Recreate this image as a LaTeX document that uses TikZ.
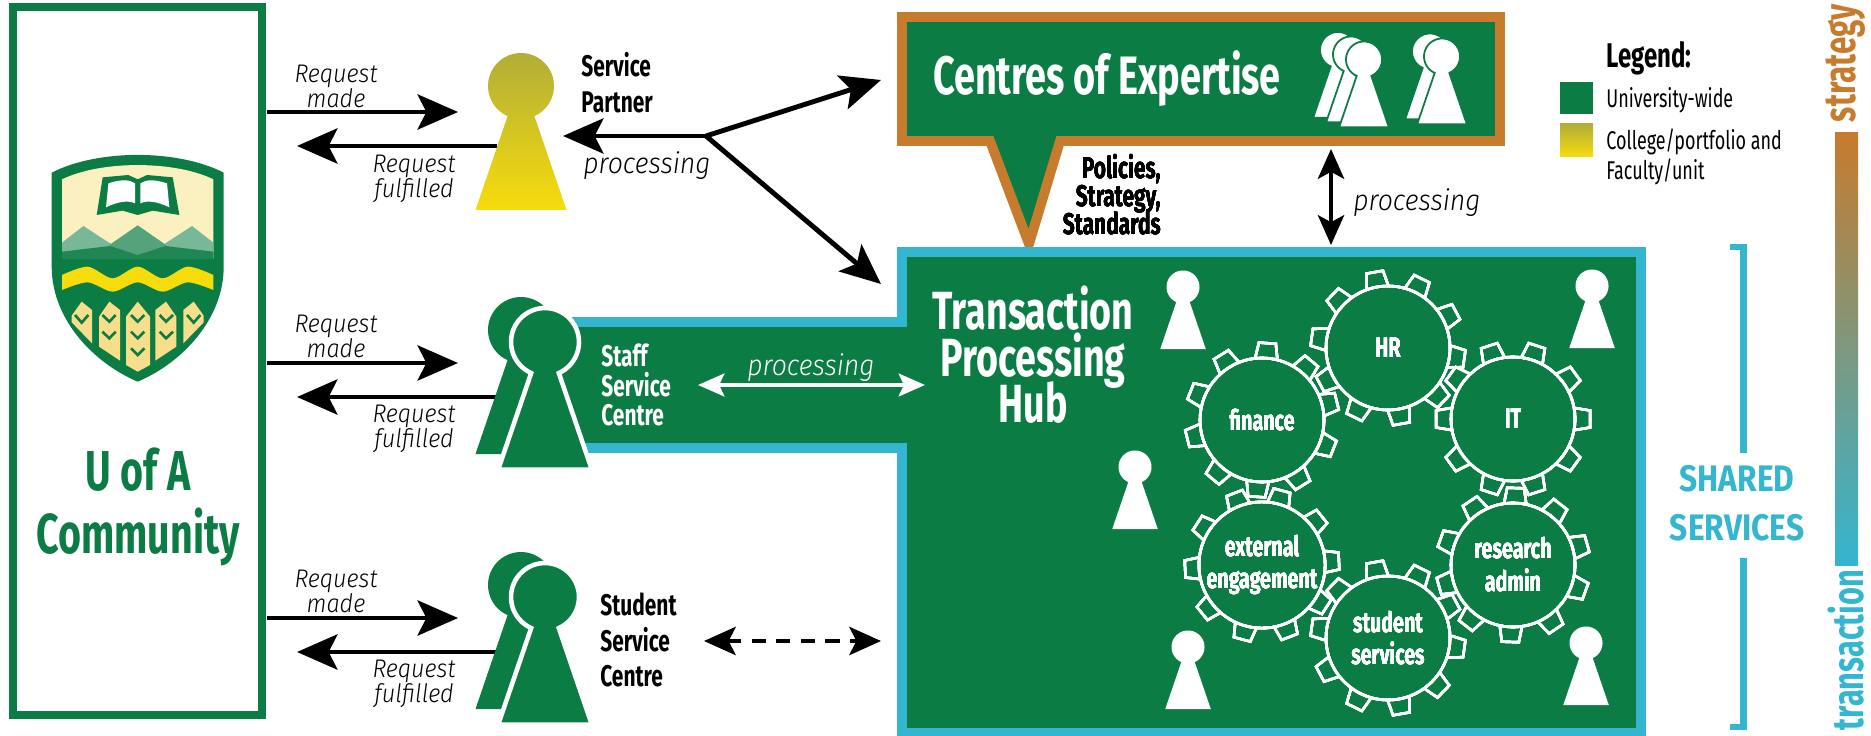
\documentclass[tikz,border=0pt]{standalone}
\usepackage{fontspec}
\usetikzlibrary{arrows.meta}
\newfontfamily\dinfont[FakeStretch=0.7]{Fira Sans}
\newfontfamily\dinwide[FakeStretch=0.86]{Fira Sans}
\newfontfamily\dinlight[FakeStretch=0.92]{Fira Sans Light}
\lineskiplimit=-50pt
\definecolor{uagreen}{HTML}{0C7C45}
\definecolor{coeorange}{HTML}{C77B2D}
\definecolor{hubteal}{HTML}{34B5D0}
\definecolor{olive}{HTML}{B1AE38}
\definecolor{gold}{HTML}{F7DC0C}
\definecolor{cream}{HTML}{FBF0C0}
\definecolor{wheat}{HTML}{F7DE8B}
% a person: x, y, head radius, options
\newcommand{\keyhole}[4]{\path[#4,shift={(#1,#2)},scale=#3/33] plot[domain=114:426,samples=50] ({33*cos(\x)},{33*sin(\x)}) -- (45.5,124) -- (-45.5,124) -- cycle;}
\tikzset{
  reqtext/.style={inner sep=0,align=center,font=\dinlight\itshape\fontsize{14.5}{14.2}\selectfont},
  proctext/.style={inner sep=0,font=\dinlight\itshape\fontsize{16.5}{17}\selectfont},
  boldtext/.style={inner sep=0,font=\dinfont\bfseries\fontsize{17}{17}\selectfont},
  legendtext/.style={inner sep=0,anchor=west,font=\dinfont\fontsize{14.6}{15}\selectfont},
  gearhub/.style={circle,draw=white,line width=1.5pt,minimum size=2.48cm,inner sep=0,align=center,text=white,font=\dinfont\bfseries\fontsize{16}{18.7}\selectfont},
  tooth/.style={draw=white,line width=1.4pt},
  bigarrow/.style={line width=2.8pt,-{Stealth[length=23pt,width=20pt,inset=5pt]}},
  whitearrow/.style={white,line width=2.2pt,{Stealth[length=15pt,width=13pt,inset=3pt]}-{Stealth[length=15pt,width=13pt,inset=3pt]}},
  vertarrow/.style={line width=2pt,{Stealth[length=17pt,width=15pt,inset=4pt]}-{Stealth[length=17pt,width=15pt,inset=4pt]}},
  dasharrow/.style={line width=2.8pt,dash pattern=on 8pt off 6pt,{Stealth[length=18pt,width=16pt,inset=4pt]}-{Stealth[length=18pt,width=16pt,inset=4pt]}}
}
\begin{document}
\begin{tikzpicture}[x=0.02cm,y=-0.02cm]
\useasboundingbox (0,0) rectangle (1871,736);
%community box
\node [draw=uagreen,line width=4.6pt,minimum width=4.98cm,minimum height=14.18cm,inner sep=0] (community) at (137.5,361) {};
\node [inner sep=0,align=center,text=uagreen,font=\dinfont\bfseries\fontsize{32}{36}\selectfont] (communitytext) at (138,507) {U of A\\Community};
%crest
\begin{scope}[shift={(137.7,120)},scale=1/3]
\fill [uagreen] (-258,158) .. controls (-120,87) and (120,87) .. (258,158) -- (258,440) .. controls (258,600) and (130,730) .. (0,785) .. controls (-130,730) and (-258,600) .. (-258,440) -- cycle;
\fill [cream] (-227,178) .. controls (-110,121) and (110,121) .. (227,178) -- (227,415) -- (-227,415) -- cycle;
\fill [fill=uagreen!55!white] (-227,368) -- (-163,318) -- (-60,385) -- (-60,415) -- (-227,415) -- cycle;
\fill [fill=uagreen!55!white] (227,368) -- (163,318) -- (60,385) -- (60,415) -- (227,415) -- cycle;
\fill [fill=uagreen!70!white] (-85,375) -- (0,316) -- (85,375) -- (85,415) -- (-85,415) -- cycle;
\fill [fill=uagreen!92!white] (-227,395) -- (-83,378) -- (0,405) -- (83,378) -- (227,395) -- (227,417) -- (-227,417) -- cycle;
\fill [gold] plot[smooth] coordinates {(-227,465) (-150,440) (-75,475) (0,440) (75,475) (150,440) (227,465)} -- plot[smooth] coordinates {(227,510) (150,487) (75,515) (0,487) (-75,515) (-150,487) (-227,510)} -- cycle;
%book
\fill [uagreen] (-123,285) -- (-105,172) -- (-28,165) -- (0,178) -- (28,165) -- (105,172) -- (125,285) -- (45,272) -- (0,285) -- (-45,272) -- cycle;
\fill [white] (-88,190) .. controls (-50,178) and (-25,178) .. (-8,190) -- (-8,250) .. controls (-30,240) and (-60,245) .. (-95,262) -- cycle;
\fill [white] (88,190) .. controls (50,178) and (25,178) .. (8,190) -- (8,250) .. controls (30,240) and (60,245) .. (95,262) -- cycle;
%wheat
\fill [wheat] (-35,590) -- (0,545) -- (37,590) -- (37,735) -- (0,755) -- (-35,735) -- cycle;
\foreach \m in {1,-1} {
\fill [wheat,xscale=\m] (-116,590) -- (-85,545) -- (-53,570) -- (-53,722) -- (-116,680) -- cycle;
\fill [wheat,xscale=\m] (-198,587) -- (-168,545) -- (-137,570) -- (-137,670) -- (-198,607) -- cycle;
\foreach \y in {585,635} \draw [uagreen,line width=1.5pt,xscale=\m] (-106,\y) -- (-85,\y+20) -- (-66,\y);
\draw [uagreen,line width=1.5pt,xscale=\m] (-188,585) -- (-168,608) -- (-148,585);
}
\foreach \y in {585,635,685} \draw [uagreen,line width=1.5pt] (-20,\y) -- (0,\y+20) -- (20,\y);
\end{scope}
%centres of expertise
\draw [coeorange,line width=5.6pt,fill=uagreen,line join=miter] (902,17) -- (1500,17) -- (1500,141) -- (1060,141) -- (1029,244) -- (990,141) -- (902,141) -- cycle;
\node [inner sep=0,text=white,font=\dinfont\bfseries\fontsize{30.8}{31}\selectfont] (coetext) at (1107,79) {Centres of Expertise};
\foreach \px/\py in {1338/50,1351/54.5,1364/59.5,1430/51.5,1442/56.5}
  \keyhole{\px}{\py}{18}{fill=white,draw=uagreen,line width=1pt}
\node [boldtext,align=right,anchor=east,text=black,font=\dinfont\bfseries\fontsize{17}{16}\selectfont] (policies) at (1161,195) {Policies,\\Strategy,\\Standards};
%hub
\draw [hubteal,line width=5.6pt,fill=uagreen] (902,252) -- (1641,252) -- (1641,733) -- (902,733) -- (902,448) -- (550,448) -- (550,322) -- (902,322) -- cycle;
\node [inner sep=0,align=center,text=white,font=\dinfont\bfseries\fontsize{30.6}{26.4}\selectfont] (hubtext) at (1033,355) {Transaction\\Processing\\Hub};
\foreach \px/\py in {1183/287,1592/286,1135/467,1188/647,1586/643}
  \keyhole{\px}{\py}{16.5}{fill=white}
%gears
\foreach \gname/\gx/\gy/\gtext/\goff in {hr/1388/348/HR/28,fin/1262/420/finance/14,it/1513/419/IT/0,ext/1262/565/{external\\engagement}/3,res/1513/565/{research\\admin}/16,stu/1388/638/{student\\services}/28} {
  \node [gearhub] (\gname) at (\gx,\gy) {\gtext};
  \foreach \a in {0,36,...,324}
    \draw [tooth,shift={(\gx,\gy)},rotate=\a+\goff] (62,-11) -- (77,-8.5) -- (77,8.5) -- (62,11);
}
%arrows to the people
\coordinate (fork) at (706,136);
\coordinate (forkpartner) at (563,136);
\coordinate (forkcoe) at (881,80);
\coordinate (forkhub) at (881,284);
\draw [bigarrow] (fork) -- (forkpartner);
\draw [bigarrow] (fork) -- (forkcoe);
\draw [bigarrow] (fork) -- (forkhub);
\foreach \rname/\dy/\tdy in {a/0/0,b/251/250,c/506/505} {
  \coordinate (\rname in) at (267,112+\dy);
  \coordinate (\rname to) at (458,112+\dy);
  \coordinate (\rname back) at (497,146+\dy);
  \coordinate (\rname end) at (297,146+\dy);
  \draw [bigarrow] (\rname in) -- (\rname to);
  \draw [bigarrow] (\rname back) -- (\rname end);
  \node [reqtext] (\rname made) at (336,86+\tdy) {Request\\made};
  \node [reqtext] (\rname done) at (414,179+\tdy) {Request\\fulfilled};
}
%people
\keyhole{521}{86}{33}{top color=olive,bottom color=gold}
\foreach \dy in {0,255} {
  \keyhole{521}{330+\dy}{33}{fill=uagreen}
  \keyhole{545}{342+\dy}{34}{fill=uagreen,draw=white,line width=2.6pt}
}
\node [boldtext,align=left,anchor=west,font=\dinfont\bfseries\fontsize{17}{20.5}\selectfont] (partner) at (581,83) {Service\\Partner};
\node [boldtext,align=left,anchor=west,text=white,font=\dinfont\bfseries\fontsize{17}{17}\selectfont] (staff) at (601,385) {Staff\\Service\\Centre};
\node [boldtext,align=left,anchor=west,font=\dinfont\bfseries\fontsize{17}{20}\selectfont] (student) at (600,640) {Student\\Service\\Centre};
%processing
\node [proctext] (procpartner) at (647,166) {processing};
\node [proctext] (proccoe) at (1417,203) {processing};
\node [proctext,text=white] (procstaff) at (811,368) {processing};
\coordinate (staffl) at (698,385);
\coordinate (staffr) at (925,385);
\draw [whitearrow] (staffl) -- (staffr);
\coordinate (coebot) at (1331,149);
\coordinate (hubtop) at (1331,245);
\draw [vertarrow] (coebot) -- (hubtop);
\coordinate (studl) at (704,641);
\coordinate (studr) at (881,641);
\draw [dasharrow] (studl) -- (studr);
%legend
\node [inner sep=0,anchor=west,font=\dinfont\bfseries\fontsize{19.5}{20}\selectfont] (legend) at (1606,58) {Legend:};
\fill [uagreen] (1560,82) rectangle (1593,114);
\shade [top color=olive,bottom color=gold] (1560,124) rectangle (1593,157);
\node [legendtext] (legendone) at (1606,100) {University-wide};
\node [legendtext,align=left,font=\dinfont\fontsize{14.6}{17.5}\selectfont] (legendtwo) at (1606,157) {College/portfolio and\\Faculty/unit};
%shared services
\node [inner sep=0,align=center,text=hubteal,font=\dinwide\bfseries\fontsize{21}{28}\selectfont] (shared) at (1737,503) {SHARED\\SERVICES};
\draw [hubteal,line width=3.7pt] (1730,247) -- (1743.5,247) -- (1743.5,453);
\draw [hubteal,line width=3.7pt] (1743.5,558) -- (1743.5,727) -- (1730,727);
%strategy bar
\shade [top color=coeorange,bottom color=hubteal] (1835,133) rectangle (1858,565);
\node [inner sep=0,rotate=90,text=coeorange,font=\dinfont\bfseries\fontsize{25.5}{26}\selectfont] (strategy) at (1846,63) {strategy};
\node [inner sep=0,rotate=90,text=hubteal,font=\dinfont\bfseries\fontsize{25}{26}\selectfont] (transaction) at (1846,650) {transaction};
\end{tikzpicture}
\end{document}
